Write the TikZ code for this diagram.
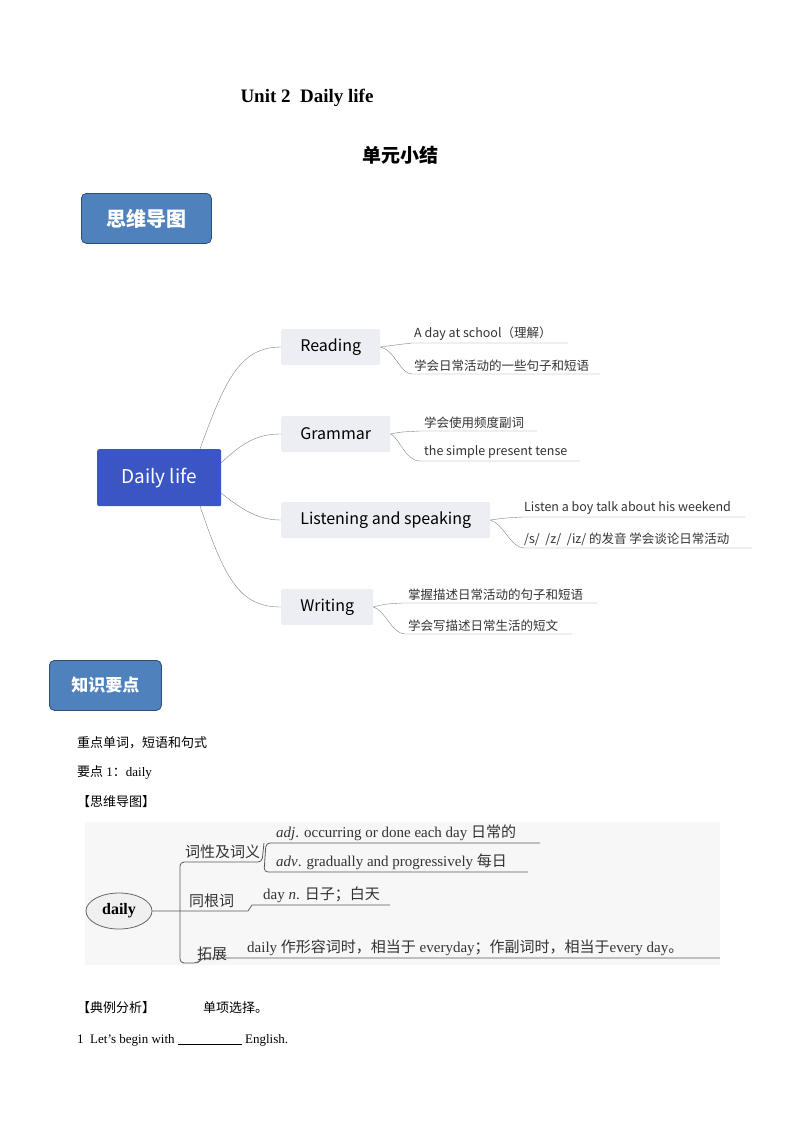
\documentclass[tikz,border=0pt]{standalone}
\usepackage{fontspec}
\setmainfont{Liberation Serif}
\newfontfamily\cjk{Noto Sans CJK SC}
\usetikzlibrary{shapes.geometric}
\definecolor{hdblue}{RGB}{79,129,189}
\definecolor{rootblue}{RGB}{58,86,196}
\definecolor{topicgray}{RGB}{237,238,243}
\definecolor{mapline}{RGB}{130,130,130}

\begin{document}
\begin{tikzpicture}[x=1pt,y=-1pt,
            header/.style={%
                draw=hdblue!60!black, thick, rounded corners=5pt, fill=hdblue,%
                minimum width=130pt, minimum height=50pt,%
                text=white, font=\cjk\fontsize{20}{20}\selectfont\bfseries%
            },
            topic/.style={%
                rounded corners=2pt, fill=topicgray, anchor=west,%
                minimum height=36pt, inner xsep=18pt,%
                font=\cjk\fontsize{16}{16}\selectfont%
            },
            leaf/.style={anchor=south west, inner sep=1pt,%
                font=\cjk\fontsize{12.5}{13}\selectfont, text=black!80},
            branch/.style={draw=mapline, thin},
            body/.style={anchor=base west, inner sep=0pt,%
                font=\fontsize{13}{13}\selectfont},
            twig/.style={draw=black!65, thick},
            twiglabel/.style={anchor=south west, inner sep=1pt,%
                font=\fontsize{15}{15}\selectfont, text=black!80}
        ]
        \useasboundingbox (0,0) rectangle (800,1130);

        % Headings
        \node (title) at (307,98) {\fontsize{19}{19}\selectfont\bfseries Unit 2\ \ Daily life};
        \node (subtitle) at (400,155) {\cjk\fontsize{19}{19}\selectfont\bfseries 单元小结};
        \node (mapHead) [header, anchor=north west] at (81,193) {思维导图};

        % Mind map
        \node (root) [anchor=north west, fill=rootblue, rounded corners=2pt,%
            minimum width=124pt, minimum height=57pt, text=white,%
            font=\cjk\fontsize{19}{19}\selectfont] at (97,449) {Daily life};
        \node (reading) [topic, minimum width=99pt] at (281,347) {Reading};
        \node (grammar) [topic, minimum width=109pt] at (281,434) {Grammar};
        \node (listen) [topic, minimum width=209pt] at (281,520) {Listening and speaking};
        \node (writing) [topic, minimum width=92pt] at (281,607) {Writing};

        \draw [branch] (200,449) .. controls (225,380) and (240,347) .. (reading.west);
        \draw [branch] (221,463) .. controls (245,440) and (260,434) .. (grammar.west);
        \draw [branch] (221,493) .. controls (245,512) and (260,520) .. (listen.west);
        \draw [branch] (200,506) .. controls (225,580) and (240,607) .. (writing.west);

        % Reading leaves
        \coordinate (r1) at (568,343);
        \coordinate (r2) at (600,374);
        \draw [branch] (reading.east) .. controls (395,345) .. (412,343) -- (r1);
        \draw [branch] (reading.east) .. controls (395,350) and (400,374) .. (412,374) -- (r2);
        \node [leaf] at (413,342) {A day at school（理解）};
        \node [leaf] at (413,373) {学会日常活动的一些句子和短语};
        % Grammar leaves
        \coordinate (g1) at (537,431);
        \coordinate (g2) at (580,461);
        \draw [branch] (grammar.east) .. controls (400,432) .. (420,431) -- (g1);
        \draw [branch] (grammar.east) .. controls (400,438) and (405,461) .. (420,461) -- (g2);
        \node [leaf] at (423,430) {学会使用频度副词};
        \node [leaf] at (423,460) {the simple present tense};
        % Listening leaves
        \coordinate (l1) at (745,517);
        \coordinate (l2) at (752,548);
        \draw [branch] (listen.east) .. controls (505,518) .. (522,517) -- (l1);
        \draw [branch] (listen.east) .. controls (505,525) and (510,548) .. (525,548) -- (l2);
        \node [leaf] at (523,516) {Listen a boy talk about his weekend};
        \node [leaf] at (523,547) {/s/\ \ /z/\ \ /iz/ 的发音 学会谈论日常活动};
        % Writing leaves
        \coordinate (w1) at (597,603);
        \coordinate (w2) at (572,634);
        \draw [branch] (writing.east) .. controls (385,604) .. (402,603) -- (w1);
        \draw [branch] (writing.east) .. controls (385,610) and (392,634) .. (405,634) -- (w2);
        \node [leaf] at (407,602) {掌握描述日常活动的句子和短语};
        \node [leaf] at (407,633) {学会写描述日常生活的短文};

        % Key points
        \node (keyHead) [header, anchor=north west, minimum width=112pt,%
            font=\cjk\fontsize{17}{17}\selectfont\bfseries] at (49,660) {知识要点};
        \node (line1) [body] at (77,747) {\cjk 重点单词，短语和句式};
        \node (line2) [body] at (77,776) {{\cjk 要点}\ 1{\cjk ：}daily};
        \node (line3) [body] at (77,806) {\cjk 【思维导图】};

        % daily map
        \fill [black!3] (85,822) rectangle (720,965);
        \node (daily) [ellipse, draw=black!60, thick, fill=black!6,%
            minimum width=66pt, minimum height=36pt,%
            font=\fontsize{16}{16}\selectfont\bfseries] at (119,911) {daily};
        \draw [twig, rounded corners=4pt] (264,843) -- (262,862) -- (180,862) -- (180,963) -- (198,963) -- (202,958) -- (720,958);
        \draw [twig] (daily.east) -- (248,911) -- (252,905) -- (390,905);
        \draw [twig, rounded corners=4pt] (540,843) -- (266,843) -- (264,872) -- (528,872);
        \node [twiglabel, font=\cjk\fontsize{15}{15}\selectfont] at (184,860) {词性及词义};
        \node [twiglabel, font=\cjk\fontsize{15}{15}\selectfont] at (188,909) {同根词};
        \node [twiglabel, font=\cjk\fontsize{15}{15}\selectfont] at (196,962) {拓展};
        \node [twiglabel] at (275,842) {\textit{adj}. occurring or done each day {\cjk 日常的}};
        \node [twiglabel] at (275,871) {\textit{adv}. gradually and progressively {\cjk 每日}};
        \node [twiglabel] at (262,904) {day \textit{n}. {\cjk 日子；白天}};
        \node [twiglabel] at (246,957) {daily {\cjk 作形容词时，相当于} everyday{\cjk ；作副词时，相当于}every day{\cjk 。}};

        % Example
        \node (line4) [body] at (77,1012) {\cjk 【典例分析】};
        \node (line5) [body] at (203,1012) {\cjk 单项选择。};
        \node (line6) [body] at (77,1043) {1\ \ Let’s begin with \underline{\hspace{64pt}} English.};
\end{tikzpicture}
\end{document}
